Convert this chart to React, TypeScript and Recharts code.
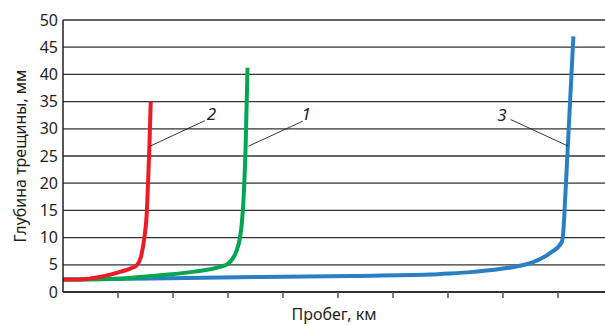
import React from 'react';
import { LineChart, Line, XAxis, YAxis, CartesianGrid, ReferenceLine, ReferenceDot } from 'recharts';

// Curve 2 (red)
const redX = [0, 0.31, 0.67, 1.04, 1.22, 1.34, 1.43, 1.48, 1.52, 1.55, 1.575, 1.595];
const redY = [2.3, 2.3, 2.75, 3.7, 4.3, 4.9, 7.0, 10, 14, 21, 28, 35];
// Curve 1 (green)
const greenX = [0, 0.85, 1.76, 2.36, 2.85, 3.0, 3.16, 3.215, 3.255, 3.29, 3.32, 3.355];
const greenY = [2.3, 2.4, 3.1, 3.7, 4.6, 5.2, 7.7, 9.8, 13, 18.5, 26.5, 41.2];
// Curve 3 (blue)
const blueX = [0, 1.6, 3.58, 5.22, 6.67, 7.04, 7.45, 8.07, 8.55, 8.85, 9.07, 9.1, 9.125, 9.17, 9.22, 9.28];
const blueY = [2.3, 2.5, 2.75, 2.95, 3.2, 3.4, 3.7, 4.4, 5.5, 7.1, 9.2, 11.5, 16, 25, 35, 47];

const yTicks = [0, 5, 10, 15, 20, 25, 30, 35, 40, 45, 50];
const xTicks = [1, 2, 3, 4, 5, 6, 7, 8, 9];

// Curve labels and leader lines
const labelNames = ['1', '2', '3'];
const labelX = [4.42, 2.7, 7.98];
const labelY = [32.9, 32.9, 32.7];
const leaderFromX = [3.37, 1.58, 9.19];
const leaderFromY = [26.8, 26.8, 26.8];
const leaderToX = [4.36, 2.58, 8.14];
const leaderToY = [31.4, 31.5, 31.7];

const toPts = (xs: number[], ys: number[]) => xs.map((x, i) => ({ x, y: ys[i] }));
const redData = toPts(redX, redY);
const greenData = toPts(greenX, greenY);
const blueData = toPts(blueX, blueY);

const FONT = '"Noto Sans", "Open Sans", sans-serif';
const TXT = '#231f20';

export default function App() {
  return (
    <div style={{ position: 'absolute', left: 0, top: 0, width: 605, height: 325, background: '#fff' }}>
      <LineChart width={605} height={325} margin={{ top: 20, right: 0, bottom: 0, left: 0 }}>
        <CartesianGrid horizontal vertical={false} stroke="#333" strokeWidth={1.3} />
        <XAxis
          type="number"
          dataKey="x"
          domain={[0, 9.855]}
          ticks={xTicks}
          allowDataOverflow
          height={33}
          tickFormatter={() => ''}
          tickSize={6}
          tickLine={{ stroke: '#555', strokeWidth: 1.5 }}
          axisLine={{ stroke: TXT, strokeWidth: 1.5 }}
          label={{
            content: (p: any) => {
              const vb = p.viewBox || { x: 63, y: 292, width: 542 };
              return (
                <text x={vb.x + vb.width / 2} y={vb.y + 28} textAnchor="middle" fontFamily={FONT} fontSize={16} fill={TXT}>
                  Пробег, км
                </text>
              );
            },
          }}
        />
        <YAxis
          type="number"
          domain={[0, 50]}
          ticks={yTicks}
          width={63}
          tickLine={false}
          tickSize={5}
          tickMargin={0}
          axisLine={{ stroke: TXT, strokeWidth: 1.5 }}
          tick={{ fontFamily: FONT, fontSize: 16, fill: TXT }}
          label={{
            content: (p: any) => {
              const vb = p.viewBox || { x: 0, y: 20, width: 63, height: 272 };
              const cx = 20;
              const cy = vb.y + vb.height / 2;
              return (
                <text x={cx} y={cy} transform={`rotate(-90 ${cx} ${cy})`} textAnchor="middle" dominantBaseline="central" fontFamily={FONT} fontSize={16} fill={TXT}>
                  Глубина трещины, мм
                </text>
              );
            },
          }}
        />
        <Line data={blueData} dataKey="y" type="monotone" stroke="#2a7fc4" strokeWidth={4} dot={false} isAnimationActive={false} />
        <Line data={greenData} dataKey="y" type="monotone" stroke="#00a651" strokeWidth={4} dot={false} isAnimationActive={false} />
        <Line data={redData} dataKey="y" type="monotone" stroke="#ed1c24" strokeWidth={4} dot={false} isAnimationActive={false} />
        {labelNames.map((n, i) => (
          <ReferenceLine
            key={'l' + n}
            segment={[{ x: leaderFromX[i], y: leaderFromY[i] }, { x: leaderToX[i], y: leaderToY[i] }]}
            stroke={TXT}
            strokeWidth={0.9}
            ifOverflow="visible"
          />
        ))}
        {labelNames.map((n, i) => (
          <ReferenceDot
            key={'d' + n}
            x={labelX[i]}
            y={labelY[i]}
            r={0}
            ifOverflow="visible"
            shape={(p: any) => (
              <text x={p.cx} y={p.cy} textAnchor="middle" dominantBaseline="central" fontFamily={FONT} fontStyle="italic" fontSize={17} fill={TXT}>
                {n}
              </text>
            )}
          />
        ))}
      </LineChart>
    </div>
  );
}
